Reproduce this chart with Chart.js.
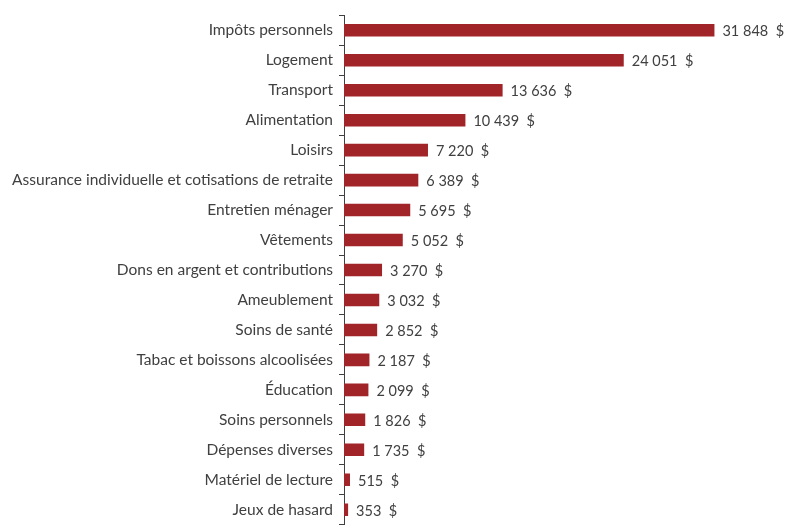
<!DOCTYPE html>
<html>
<head>
<meta charset="utf-8">
<script src="https://cdn.jsdelivr.net/npm/chart.js@4"></script>
<style>
  html, body { margin: 0; padding: 0; background: #fff; overflow: hidden; }
  #wrap { width: 786px; height: 540px; }
</style>
</head>
<body>
<div id="wrap"><canvas id="depenses"></canvas></div>
<script>
const categories = [
    'Impôts personnels',
    'Logement',
    'Transport',
    'Alimentation',
    'Loisirs',
    'Assurance individuelle et cotisations de retraite',
    'Entretien ménager',
    'Vêtements',
    'Dons en argent et contributions',
    'Ameublement',
    'Soins de santé',
    'Tabac et boissons alcoolisées',
    'Éducation',
    'Soins personnels',
    'Dépenses diverses',
    'Matériel de lecture',
    'Jeux de hasard'
];
const montants = [31848, 24051, 13636, 10439, 7220, 6389, 5695, 5052, 3270, 3032, 2852, 2187, 2099, 1826, 1735, 515, 353];

const police = 'Lato, "Liberation Sans", sans-serif';
const grisTexte = '#404040';

// format "31 848  $"
function formatMontant(v) {
    return String(v).replace(/\B(?=(\d{3})+(?!\d))/g, ' ') + '  $';
}

const etiquettes = {
    id: 'etiquettes',
    afterDatasetsDraw(chart) {
        const c = chart.ctx;
        const meta = chart.getDatasetMeta(0);
        c.save();
        c.font = '14.5px ' + police;
        c.fillStyle = grisTexte;
        c.textAlign = 'left';
        c.textBaseline = 'middle';
        meta.data.forEach((bar, i) => {
            c.fillText(formatMontant(montants[i]), bar.x + 8, bar.y + 1.5);
        });
        c.restore();
    }
};

const ctx = document.getElementById('depenses');

new Chart(ctx, {
    type: 'bar',
    data: {
        labels: categories,
        datasets: [{
            data: montants,
            backgroundColor: '#A12428',
            barPercentage: 0.42,
            categoryPercentage: 1
        }]
    },
    options: {
        indexAxis: 'y',
        responsive: true,
        maintainAspectRatio: false,
        animation: false,
        layout: { padding: { top: 15, bottom: 11, left: 0, right: 0 } },
        plugins: {
            legend: { display: false },
            tooltip: { enabled: false }
        },
        scales: {
            x: {
                display: false,
                min: 0,
                max: 38000
            },
            y: {
                afterFit(scale) { scale.width = 344; },
                grid: {
                    drawOnChartArea: false,
                    drawTicks: true,
                    tickLength: 5,
                    color: '#404040',
                    offset: true
                },
                border: { display: true, color: '#404040', width: 1 },
                ticks: {
                    color: grisTexte,
                    padding: 6,
                    font: { family: police, size: 15.5 }
                }
            }
        }
    },
    plugins: [etiquettes]
});
</script>
</body>
</html>
